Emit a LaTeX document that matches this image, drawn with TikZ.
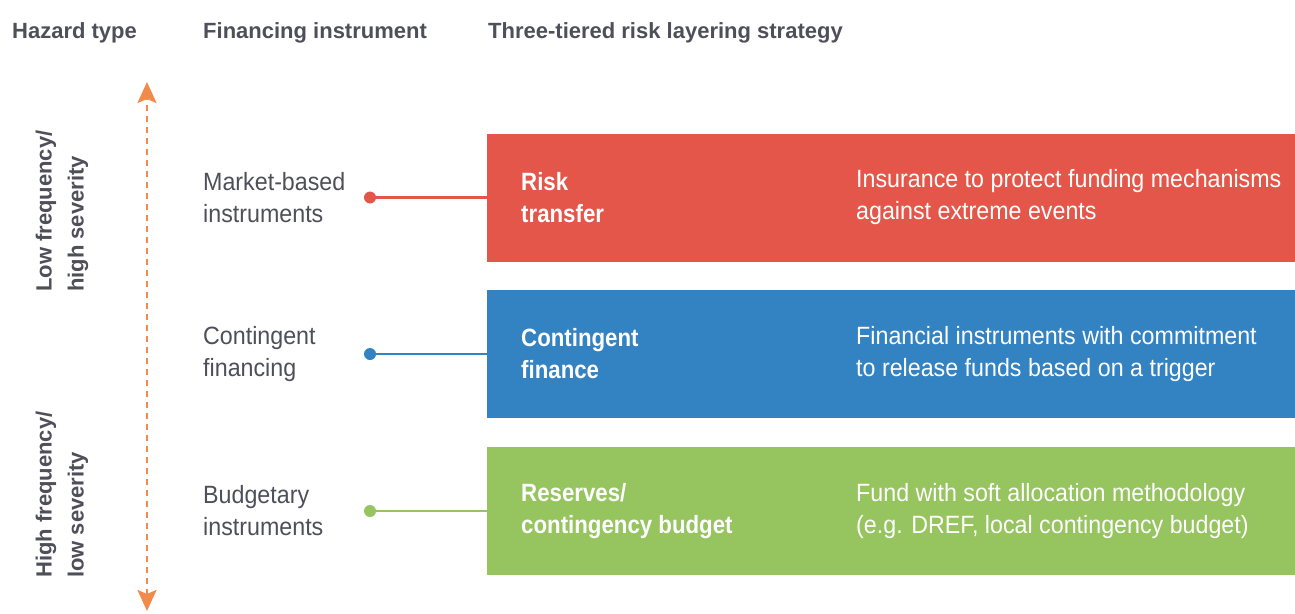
\documentclass[tikz,border=0pt]{standalone}
\usepackage{fontspec}
\setmainfont{Liberation Sans}
\newfontfamily\condfont[FakeStretch=0.93]{Liberation Sans}
\newfontfamily\condbold[FakeStretch=0.89]{Liberation Sans Bold}
\usetikzlibrary{arrows.meta}
\definecolor{tred}{HTML}{E4564A}
\definecolor{tblue}{HTML}{3382C2}
\definecolor{tgreen}{HTML}{96C45F}
\definecolor{torange}{HTML}{F28A4C}
\definecolor{tgray}{HTML}{4E4F59}
\tikzset{
  head/.style={anchor=base west, inner sep=0pt, text=tgray, font=\fontsize{22}{26}\selectfont\bfseries},
  side/.style={rotate=90, anchor=west, inner sep=0pt, align=left, text=tgray, font=\fontsize{22}{32}\selectfont\bfseries},
  label/.style={anchor=west, inner sep=0pt, align=left, text=tgray, font=\condfont\fontsize{25}{32}\selectfont},
  tier/.style={anchor=west, inner sep=0pt, minimum width=808pt, minimum height=128pt, draw=none, fill=#1},
  title/.style={anchor=west, inner sep=0pt, align=left, text=white, font=\condbold\fontsize{25}{32}\selectfont},
  desc/.style={anchor=west, inner sep=0pt, align=left, text=white, font=\condfont\fontsize{25}{32}\selectfont},
  dot/.style={circle, fill=#1, inner sep=0pt, minimum size=12pt},
  link/.style={draw=#1, line width=2.5pt},
  scale arrow/.style={draw=torange, line width=2.5pt, dash pattern=on 6pt off 5pt,
    {Stealth[length=21pt,width=19pt,inset=4pt]}-{Stealth[length=21pt,width=19pt,inset=4pt]}}
}
\begin{document}
\begin{tikzpicture}[x=1pt,y=-1pt]
\useasboundingbox (0,0) rectangle (1295,613);
% headers
\node[head] (h1) at (12,38) {Hazard type};
\node[head] (h2) at (203,38) {Financing instrument};
\node[head] (h3) at (488,38) {Three-tiered risk layering strategy};
% vertical arrow
\coordinate (atop) at (147,82);
\coordinate (abot) at (147,611);
\draw[scale arrow] (abot) -- (atop);
% side labels
\node[side] (s1) at (62,292) {Low frequency/\\high severity};
\node[side] (s2) at (62,578) {High frequency/\\low severity};
% tiers
\node[tier=tred] (t1) at (487,197.5) {};
\node[tier=tblue] (t2) at (487,354) {};
\node[tier=tgreen] (t3) at (487,511) {};
% left labels
\node[label] (l1) at (203,197.5) {Market-based\\instruments};
\node[label] (l2) at (203,354) {Contingent\\financing};
\node[label] (l3) at (203,511) {Budgetary\\instruments};
% dots and links
\node[dot=tred] (d1) at (370,197.5) {};
\node[dot=tblue] (d2) at (370,354) {};
\node[dot=tgreen] (d3) at (370,511) {};
\draw[link=tred] (d1) -- (t1.west);
\draw[link=tblue] (d2) -- (t2.west);
\draw[link=tgreen] (d3) -- (t3.west);
% titles
\node[title] (n1) at (521,197.5) {Risk\\transfer};
\node[title] (n2) at (521,354) {Contingent\\finance};
\node[title] (n3) at (521,511) {Reserves/\\contingency budget};
% descriptions
\node[desc] (e1) at (856,197.5) {Insurance to protect funding mechanisms\\against extreme events};
\node[desc] (e2) at (856,354) {Financial instruments with commitment\\to release funds based on a trigger};
\node[desc] (e3) at (856,511) {Fund with soft allocation methodology\\(e.g. DREF, local contingency budget)};
\end{tikzpicture}
\end{document}
